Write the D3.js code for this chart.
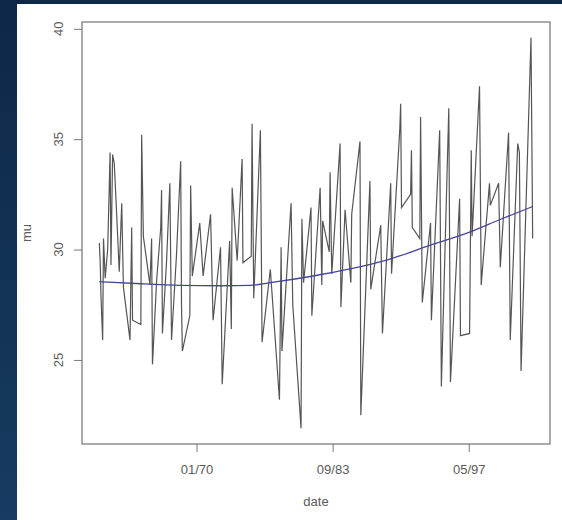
<!DOCTYPE html>
<html>
<head>
<meta charset="utf-8">
<script src="https://cdn.jsdelivr.net/npm/d3@7"></script>
<style>
  html, body { margin: 0; padding: 0; }
  body { width: 562px; height: 520px; overflow: hidden; }
  text { font-family: "Liberation Sans", Arial, sans-serif; fill: #5a5a5a; }
</style>
</head>
<body>
<div id="chartDiv"></div>
<script>
var dates = ["1960-04","1960-05","1960-06","1960-08","1960-09","1960-11","1961-02","1961-05","1961-06","1961-08",
  "1961-10","1962-01","1962-04","1962-07","1962-09","1963-05","1963-07","1963-08","1964-06","1964-07",
  "1964-09","1965-05","1965-07","1965-08","1966-01","1966-06","1966-07","1966-08","1967-01","1967-05",
  "1967-07","1968-01","1968-06","1968-07","1968-08","1969-05","1969-06","1969-08","1970-05","1970-09",
  "1971-06","1971-09","1972-06","1972-08","1973-05","1973-07","1973-08","1974-02","1974-08","1974-09",
  "1975-07","1975-08","1975-10","1976-06","1976-08","1977-06","1978-05","1978-07","1978-08","1979-07",
  "1979-09","1980-07","1980-08","1980-10","1981-07","1981-08","1982-06","1982-08","1982-09","1983-05",
  "1983-06","1983-08","1984-06","1984-07","1984-12","1985-07","1985-08","1986-06","1986-07","1987-06",
  "1987-07","1988-07","1988-09","1989-07","1989-08","1990-06","1990-07","1990-08","1991-07","1991-08",
  "1991-09","1992-06","1992-07","1992-09","1993-07","1993-08","1994-06","1994-08","1995-05","1995-07",
  "1996-06","1996-07","1997-06","1997-08","1997-09","1998-06","1998-08","1999-06","1999-07","2000-05",
  "2000-07","2001-05","2001-07","2002-04","2002-06","2002-08","2003-08","2003-10"];
var mu = [30.3,29.5,27.9,25.9,30.5,28.7,30.0,34.4,29.3,34.3,
  33.9,31.5,29.0,32.1,28.3,25.9,31.0,26.8,26.6,35.2,
  30.6,28.4,30.5,24.8,28.6,31.0,32.7,26.2,29.5,33.0,
  25.9,29.8,34.0,27.5,25.4,27.0,32.9,28.8,31.2,28.8,
  31.6,26.8,30.1,23.9,30.4,26.4,32.8,29.5,34.1,29.4,
  29.7,35.7,27.8,35.4,25.8,29.1,23.2,30.1,25.4,32.1,
  27.5,21.9,31.4,28.5,31.9,27.0,32.8,28.4,31.3,29.9,
  33.5,28.9,34.8,27.4,31.8,28.5,31.6,34.9,22.5,33.1,
  28.2,31.1,26.2,33.0,28.9,35.5,36.6,31.9,32.5,34.5,
  31.0,30.5,36.0,27.6,31.2,26.8,35.4,23.8,36.4,24.0,
  32.3,26.1,26.2,34.5,30.6,37.4,28.4,33.0,32.0,33.0,
  29.2,35.3,25.9,34.8,34.4,24.5,39.6,30.5];

// smooth trend (blue)
var trendDates = ["1960-04","1964-06","1968-06","1972-06","1975-06","1977-06","1981-06","1985-06","1989-06","1993-06","1997-06","2000-06","2003-10"];
var trendValues = [28.55,28.45,28.38,28.36,28.38,28.5,28.78,29.12,29.57,30.19,30.79,31.35,31.95];

var xTickLabels = ["01/70","09/83","05/97"];
var yTicks = [25,30,35,40];

var W = 562, H = 520;
var margin = {top: 22, right: 12, bottom: 76, left: 82},
    width = W - margin.left - margin.right,
    height = H - margin.top - margin.bottom;

var parseDate = d3.timeParse("%Y-%m");
var parseTick = d3.timeParse("%m/%y");

var data = dates.map(function(d, i) { return {date: parseDate(d), value: mu[i]}; });
var trend = trendDates.map(function(d, i) { return {date: parseDate(d), value: trendValues[i]}; });

var svg = d3.select("#chartDiv").append("svg")
    .attr("width", W)
    .attr("height", H);

// slide background
var grad = svg.append("defs").append("linearGradient")
    .attr("id", "bg").attr("x1", 0).attr("y1", 0).attr("x2", 0).attr("y2", 1);
grad.append("stop").attr("offset", "0%").attr("stop-color", "#0d2846");
grad.append("stop").attr("offset", "100%").attr("stop-color", "#173b62");
svg.append("rect").attr("width", W).attr("height", H).attr("fill", "url(#bg)");
svg.append("rect").attr("x", 17).attr("y", 4).attr("width", W - 17).attr("height", H - 4).attr("fill", "#fff");

// R style 4% padding of the ranges
var xExt = d3.extent(data, function(d) { return d.date; });
var xPad = (xExt[1] - xExt[0]) * 0.04;
var yExt = d3.extent(data, function(d) { return d.value; });
var yPad = (yExt[1] - yExt[0]) * 0.04;

var x = d3.scaleTime()
    .domain([new Date(+xExt[0] - xPad), new Date(+xExt[1] + xPad)])
    .range([0, width]);
var y = d3.scaleLinear()
    .domain([yExt[0] - yPad, yExt[1] + yPad])
    .range([height, 0]);

var g = svg.append("g")
    .attr("transform", "translate(" + margin.left + "," + margin.top + ")");

var valueline = d3.line()
    .x(function(d) { return x(d.date); })
    .y(function(d) { return y(d.value); });

g.append("path")
    .attr("d", valueline(data))
    .attr("fill", "none")
    .attr("stroke", "#555")
    .attr("stroke-width", 1.2);

var trendline = d3.line()
    .curve(d3.curveMonotoneX)
    .x(function(d) { return x(d.date); })
    .y(function(d) { return y(d.value); });

g.append("path")
    .attr("d", trendline(trend))
    .attr("fill", "none")
    .attr("stroke", "#45459c")
    .attr("stroke-width", 1.3);

// box
g.append("rect")
    .attr("width", width).attr("height", height)
    .attr("fill", "none").attr("stroke", "#8e8e8e").attr("stroke-width", 1.5);

// x axis
var xaxis = g.append("g")
    .attr("transform", "translate(0," + height + ")")
    .call(d3.axisBottom(x)
        .tickValues(xTickLabels.map(function(t) { return parseTick(t); }))
        .tickFormat(d3.timeFormat("%m/%y"))
        .tickSize(8).tickPadding(13));
xaxis.select(".domain").remove();
xaxis.selectAll("line").attr("stroke", "#777");
xaxis.selectAll("text").attr("font-size", "13px").attr("fill", "#5a5a5a")
    .style("font-family", "Liberation Sans, Arial, sans-serif");

// y axis, labels parallel to the axis
var yaxis = g.append("g")
    .call(d3.axisLeft(y).tickValues(yTicks).tickSize(8).tickFormat(""));
yaxis.select(".domain").remove();
yaxis.selectAll("line").attr("stroke", "#777");

g.selectAll(".ylab")
    .data(yTicks)
  .enter().append("text")
    .attr("class", "ylab")
    .attr("text-anchor", "middle")
    .attr("font-size", "13px")
    .attr("transform", function(d) { return "translate(-24," + y(d) + ") rotate(-90)"; })
    .attr("dy", "0.35em")
    .text(function(d) { return d; });

// axis titles
svg.append("text")
    .attr("x", margin.left + width / 2).attr("y", 506)
    .attr("text-anchor", "middle").attr("font-size", "13px")
    .text("date");
svg.append("text")
    .attr("transform", "translate(31," + (margin.top + height / 2) + ") rotate(-90)")
    .attr("text-anchor", "middle").attr("font-size", "13px")
    .text("mu");
</script>
</body>
</html>
